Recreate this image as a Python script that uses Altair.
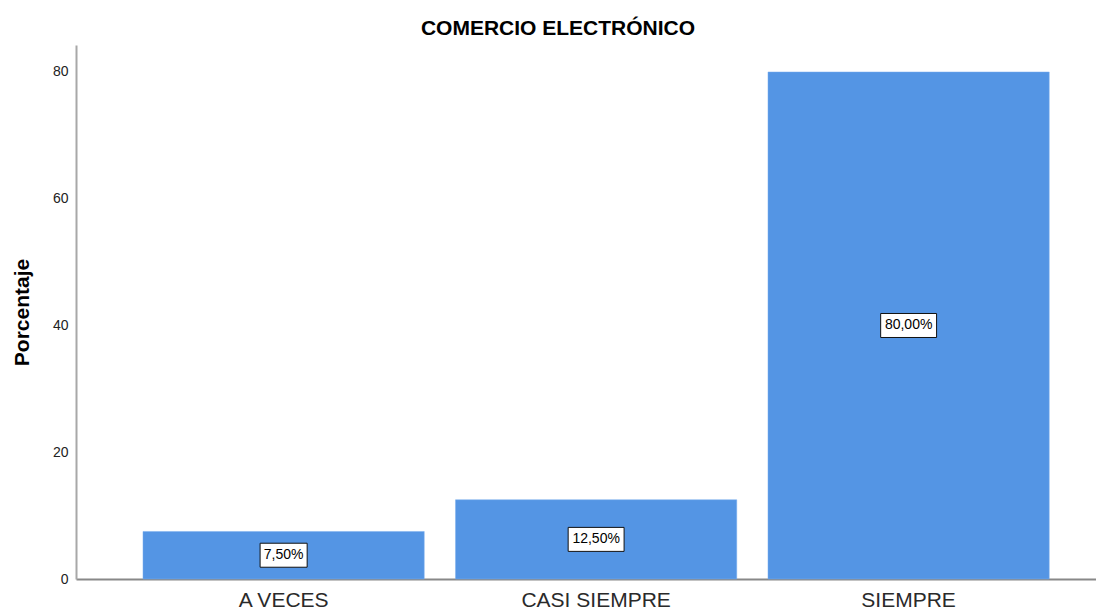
import altair as alt
import pandas as pd

categories = ["A VECES", "CASI SIEMPRE", "SIEMPRE"]
values = [7.5, 12.5, 80.0]
labels = ["7,50%", "12,50%", "80,00%"]

df = pd.DataFrame({"cat": categories, "val": values, "lab": labels})
df["mid"] = df["val"] / 2

FONT = "Liberation Sans"

box_small = "M-1.96,-1L1.96,-1L1.96,1L-1.96,1Z"
box_wide = "M-2.33,-1L2.33,-1L2.33,1L-2.33,1Z"

x = alt.X("cat:N", sort=categories, title=None,
          scale=alt.Scale(paddingInner=0.1, paddingOuter=0.182, align=0.589),
          axis=alt.Axis(labelAngle=0, labelFontSize=21, labelColor="#2a2a2a",
                        labelFont=FONT, labelPadding=10, ticks=False,
                        domainColor="#888888", domainWidth=2))

bars = alt.Chart(df).mark_bar(color="#5495e4", stroke="#7aaeee", strokeWidth=0.5).encode(
    x=x,
    y=alt.Y("val:Q", title="Porcentaje",
            scale=alt.Scale(domain=[0, 84.26], nice=False),
            axis=alt.Axis(values=[0, 20, 40, 60, 80], grid=False, ticks=False,
                          labelFontSize=14, labelFont=FONT, labelColor="#222222",
                          labelPadding=8, domainColor="#a8a8a8", domainWidth=2,
                          titleFont=FONT, titleFontSize=21, titleFontWeight="bold",
                          titleColor="#000000", titleAngle=270, titleX=-54,
                          titleY=267, titleAlign="center", titleBaseline="middle"))
)

boxes = alt.Chart(df).mark_point(
    size=576, filled=True, fill="white", stroke="#111111", strokeWidth=1, opacity=1
).encode(
    x=alt.X("cat:N", sort=categories),
    y=alt.Y("mid:Q"),
    shape=alt.Shape("lab:N", legend=None,
                    scale=alt.Scale(domain=labels, range=[box_small, box_wide, box_wide])),
)

texts = alt.Chart(df).mark_text(font=FONT, fontSize=14, color="#000000").encode(
    x=alt.X("cat:N", sort=categories), y=alt.Y("mid:Q"), text="lab:N"
)

chart = alt.layer(bars, boxes, texts).properties(
    width=1020, height=534,
    title=alt.TitleParams("COMERCIO ELECTRÓNICO", font=FONT, fontSize=21,
                          fontWeight="bold", color="#000000", dx=-28, offset=6),
    autosize=alt.AutoSizeParams(type="none"),
    padding={"left": 68, "top": 37, "right": 0, "bottom": 33},
).configure_view(stroke=None)

chart.save("out.html", embed_options={"renderer": "svg", "actions": False})
